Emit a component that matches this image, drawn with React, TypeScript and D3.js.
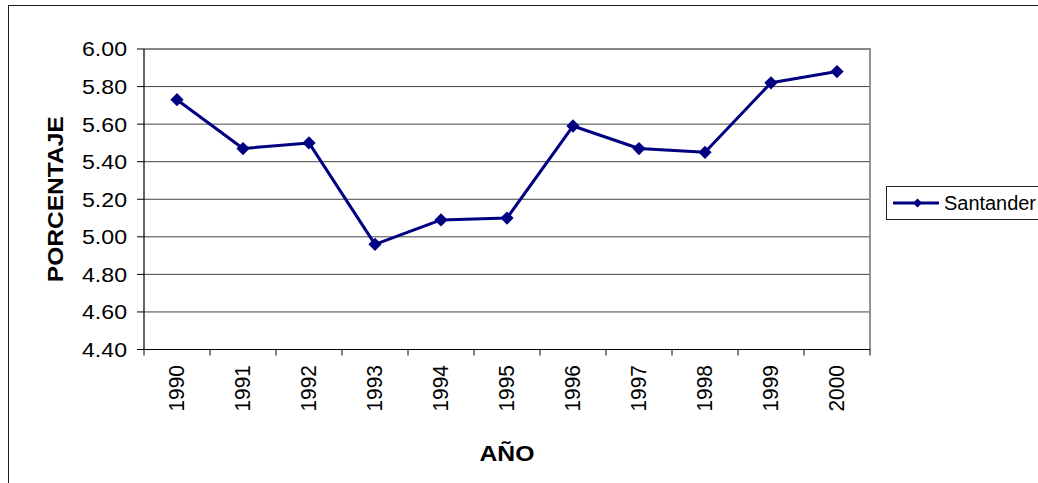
import React, { useEffect, useRef } from 'react'
import * as d3 from 'd3'

const years = ['1990', '1991', '1992', '1993', '1994', '1995', '1996', '1997', '1998', '1999', '2000']
const santander = [5.73, 5.47, 5.5, 4.96, 5.09, 5.1, 5.59, 5.47, 5.45, 5.82, 5.88]
const yTicks = [4.4, 4.6, 4.8, 5.0, 5.2, 5.4, 5.6, 5.8, 6.0]
const seriesName = 'Santander'
const yTitle = 'PORCENTAJE'
const xTitle = 'AÑO'

const W = 1038
const H = 483
const plot = { left: 144, right: 870, top: 49, bottom: 349.5 }
const navy = '#000080'
const font = 'Arial, "Liberation Sans", sans-serif'

export default function App() {
  const ref = useRef<SVGSVGElement>(null)

  useEffect(() => {
    const svg = d3.select(ref.current)
    svg.selectAll('*').remove()

    const x = d3.scaleBand().domain(years).range([plot.left, plot.right])
    const y = d3.scaleLinear().domain([4.4, 6]).range([plot.bottom, plot.top])
    const cx = (d: string) => (x(d) as number) + x.bandwidth() / 2
    const fmt = d3.format('.2f')

    // outer frame of the chart
    svg.append('rect')
      .attr('x', 8.5).attr('y', 5.5)
      .attr('width', W + 20).attr('height', H)
      .attr('fill', '#fff')
      .attr('stroke', '#1a1a1a')
      .attr('stroke-width', 1)

    // grid lines
    svg.append('g')
      .selectAll('line')
      .data(yTicks.slice(1))
      .enter()
      .append('line')
      .attr('x1', plot.left).attr('x2', plot.right)
      .attr('y1', d => y(d)).attr('y2', d => y(d))
      .attr('stroke', '#444')
      .attr('stroke-width', 1)

    // plot area border (top / right)
    svg.append('path')
      .attr('d', `M${plot.left},${plot.top}H${plot.right}V${plot.bottom}`)
      .attr('fill', 'none')
      .attr('stroke', '#888')
      .attr('stroke-width', 1.8)

    // y axis
    const yAxis = svg.append('g')
    yAxis.append('line')
      .attr('x1', plot.left).attr('x2', plot.left)
      .attr('y1', plot.top).attr('y2', plot.bottom)
      .attr('stroke', '#000').attr('stroke-width', 1.2)
    const yt = yAxis.selectAll('.ytick')
      .data(yTicks)
      .enter()
      .append('g')
      .attr('class', 'ytick')
      .attr('transform', d => `translate(0, ${y(d)})`)
    yt.append('line')
      .attr('x1', plot.left - 7).attr('x2', plot.left)
      .attr('stroke', '#000')
    yt.append('text')
      .attr('x', 127)
      .attr('dy', '0.36em')
      .attr('text-anchor', 'end')
      .attr('font-family', font)
      .attr('font-size', 20.5)
      .attr('textLength', 45)
      .attr('lengthAdjust', 'spacingAndGlyphs')
      .attr('fill', '#000')
      .text(d => fmt(d))

    // x axis
    const xAxis = svg.append('g')
    xAxis.append('line')
      .attr('x1', plot.left).attr('x2', plot.right)
      .attr('y1', plot.bottom).attr('y2', plot.bottom)
      .attr('stroke', '#000').attr('stroke-width', 1.2)
    const bounds = years.map(d => x(d) as number).concat([plot.right])
    xAxis.selectAll('.xtick')
      .data(bounds)
      .enter()
      .append('line')
      .attr('x1', d => d).attr('x2', d => d)
      .attr('y1', plot.bottom).attr('y2', plot.bottom + 6)
      .attr('stroke', '#000')
    xAxis.selectAll('.xlabel')
      .data(years)
      .enter()
      .append('text')
      .attr('transform', d => `translate(${cx(d) + 6.5}, 365) rotate(-90)`)
      .attr('text-anchor', 'end')
      .attr('font-family', font)
      .attr('font-size', 21.5)
      .attr('textLength', 46.5)
      .attr('lengthAdjust', 'spacingAndGlyphs')
      .attr('fill', '#000')
      .text(d => d)

    // axis titles
    svg.append('text')
      .attr('transform', `translate(63, ${(plot.top + plot.bottom) / 2}) rotate(-90)`)
      .attr('text-anchor', 'middle')
      .attr('font-family', font)
      .attr('font-weight', 'bold')
      .attr('font-size', 22)
      .attr('textLength', 166)
      .attr('lengthAdjust', 'spacingAndGlyphs')
      .text(yTitle)
    svg.append('text')
      .attr('x', (plot.left + plot.right) / 2)
      .attr('y', 461)
      .attr('text-anchor', 'middle')
      .attr('font-family', font)
      .attr('font-weight', 'bold')
      .attr('font-size', 22)
      .attr('textLength', 55)
      .attr('lengthAdjust', 'spacingAndGlyphs')
      .text(xTitle)

    // series line
    const line = d3.line<number>()
      .x((d, i) => cx(years[i]))
      .y(d => y(d))
    svg.append('path')
      .datum(santander)
      .attr('d', line)
      .attr('fill', 'none')
      .attr('stroke', navy)
      .attr('stroke-width', 3)
      .attr('stroke-linejoin', 'round')

    // diamond markers
    const diamond = d3.symbol().type(d3.symbolSquare).size(88)
    svg.selectAll('.marker')
      .data(santander)
      .enter()
      .append('path')
      .attr('class', 'marker')
      .attr('d', diamond)
      .attr('transform', (d, i) => `translate(${cx(years[i])}, ${y(d)}) rotate(45)`)
      .attr('fill', navy)

    // legend
    const lg = svg.append('g')
    lg.append('rect')
      .attr('x', 886.5).attr('y', 186.5)
      .attr('width', 170).attr('height', 33)
      .attr('fill', '#fff')
      .attr('stroke', '#222')
    lg.append('line')
      .attr('x1', 893).attr('x2', 939)
      .attr('y1', 203).attr('y2', 203)
      .attr('stroke', navy).attr('stroke-width', 3)
    lg.append('path')
      .attr('d', d3.symbol().type(d3.symbolSquare).size(42))
      .attr('transform', 'translate(917.5, 203) rotate(45)')
      .attr('fill', navy)
    lg.append('text')
      .attr('x', 944)
      .attr('y', 210)
      .attr('font-family', font)
      .attr('font-size', 19.5)
      .attr('textLength', 92)
      .attr('lengthAdjust', 'spacingAndGlyphs')
      .text(seriesName)
  }, [])

  return (
    <svg
      ref={ref}
      width={W}
      height={H}
      style={{ position: 'absolute', left: 0, top: 0, background: '#fff' }}
    />
  )
}
